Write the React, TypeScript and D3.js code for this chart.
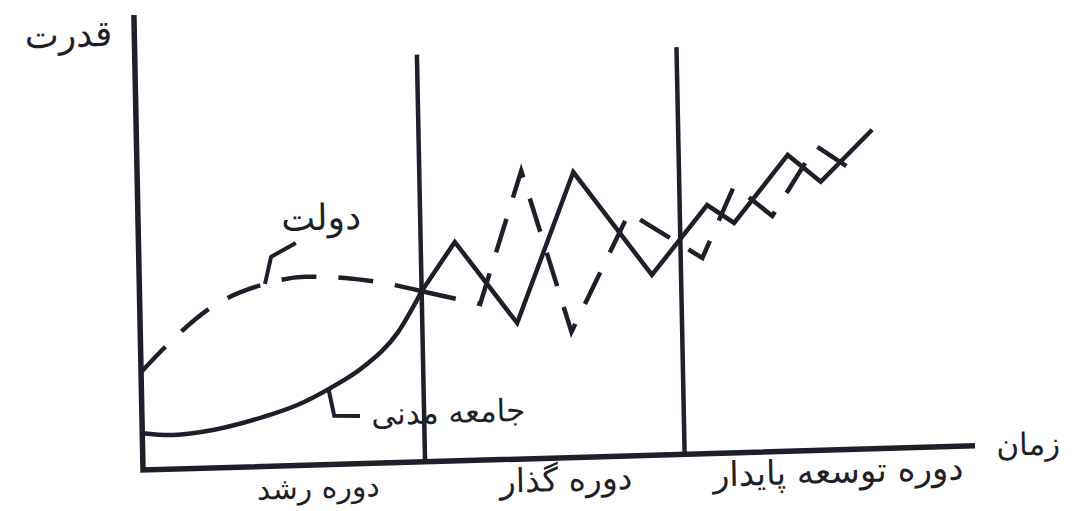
import * as d3 from 'd3';

const WIDTH = 1080;
const HEIGHT = 511;

// time runs 0..100 along the bottom, power 0..100 up the side
const periodBounds = [0, 33.9, 65.1, 100];
const periodLabels = ['دوره رشد', 'دوره گذار', 'دوره توسعه پایدار'];
const periodLabelTime = [21, 50.8, 83.5];
const dividerTop = 89.5;

// civil society (solid)
const civilCurveTime = [0, 3.7, 8.5, 14.6, 18.7, 22.7, 26.7, 30.9, 33.9];
const civilCurvePower = [8.1, 7.5, 8.35, 10.9, 13.3, 16.8, 21.2, 28.5, 37.5];
const civilZigTime = [33.9, 38.0, 45.3, 52.4, 61.6, 68.4, 71.6, 78.2, 82.1, 88.4];
const civilZigPower = [37.5, 48.1, 29.9, 62.7, 39.6, 54.6, 50.5, 65.1, 59.0, 70.1];

// government (dashed)
const govCurveTime = [0, 3.2, 8.7, 15.1, 19.9, 24.7, 29.2, 33.9];
const govCurvePower = [21.5, 27.3, 35.4, 40.1, 41.4, 40.9, 39.6, 37.5];
const govZigTime = [33.9, 40.9, 46.15, 51.8, 59.0, 67.7, 71.7, 76.2, 81.6, 85.5];
const govZigPower = [37.5, 34.3, 63.3, 27.6, 53.4, 43.0, 58.7, 51.8, 66.9, 61.9];

// label leaders and labels
const govLeaderTime = [15.1, 15.9, 18.9];
const govLeaderPower = [40.1, 46.0, 48.9];
const civilLeaderTime = [22.5, 23.1, 26.2];
const civilLeaderPower = [16.4, 10.7, 10.5];
const seriesLabels = ['دولت', 'جامعه مدنی'];
const seriesLabelTime = [22.0, 36.8];
const seriesLabelPower = [51.6, 8.4];

const axisTitles = ['قدرت', 'زمان'];
const axisTitleTime = [-7.9, 106.4];
const axisTitlePower = [93.4, -2.35];

// the hand drawing leans a little
const SKEW_X = 0.02;
const SKEW_Y = -0.029;

const INK = '#1f1f29';
const FONT = '"DejaVu Sans", sans-serif';

// lettering in the scan is not all one size
const SIZE: Record<string, number> = {
    'قدرت': 36,
    'زمان': 31,
    'دولت': 36,
    'جامعه مدنی': 31,
    'دوره رشد': 30,
    'دوره گذار': 33,
    'دوره توسعه پایدار': 34,
};

type Pt = [number, number];
const zip = (ts: number[], ps: number[]): Pt[] => ts.map((t, i) => [t, ps[i]]);

export default function App() {
    const x = d3.scaleLinear().domain([0, 100]).range([143, 975]);
    const y = d3.scaleLinear().domain([0, 100]).range([470, 15]);

    const straight = d3.line<Pt>().x(d => x(d[0])).y(d => y(d[1]));
    const smooth = d3.line<Pt>().x(d => x(d[0])).y(d => y(d[1])).curve(d3.curveMonotoneX);

    const ox = x(0);
    const oy = y(0);
    const lean = `translate(${ox},${oy}) matrix(1,${SKEW_Y},${SKEW_X},1,0,0) translate(${-ox},${-oy})`;

    const govPath =
        (smooth(zip(govCurveTime, govCurvePower)) ?? '') +
        (straight(zip(govZigTime, govZigPower)) ?? '');

    return (
        <svg
            width={WIDTH}
            height={HEIGHT}
            style={{ position: 'absolute', left: 0, top: 0, background: '#fff' }}
        >
            <g transform={lean}>
                {/* axes */}
                <path
                    d={straight([[0, 100], [0, 0], [100, 0]]) ?? ''}
                    fill="none"
                    stroke={INK}
                    strokeWidth={5.5}
                    strokeLinejoin="miter"
                />
                {/* period dividers */}
                {periodBounds.slice(1, -1).map((t, i) => (
                    <line
                        key={i}
                        x1={x(t)}
                        x2={x(t)}
                        y1={y(0)}
                        y2={y(dividerTop)}
                        stroke={INK}
                        strokeWidth={4.5}
                    />
                ))}

                {/* civil society */}
                <path d={smooth(zip(civilCurveTime, civilCurvePower)) ?? ''} fill="none" stroke={INK} strokeWidth={4.5} />
                <path d={straight(zip(civilZigTime, civilZigPower)) ?? ''} fill="none" stroke={INK} strokeWidth={4.5} strokeLinejoin="miter" />

                {/* government */}
                <path d={govPath} fill="none" stroke={INK} strokeWidth={4.5} strokeDasharray="35 22" />

                {/* leaders */}
                <path d={straight(zip(govLeaderTime, govLeaderPower)) ?? ''} fill="none" stroke={INK} strokeWidth={4} />
                <path d={straight(zip(civilLeaderTime, civilLeaderPower)) ?? ''} fill="none" stroke={INK} strokeWidth={4} />

                <g fontFamily={FONT} fill={INK} textAnchor="middle" direction="rtl">
                    {seriesLabels.map((s, i) => (
                        <text key={s} x={x(seriesLabelTime[i])} y={y(seriesLabelPower[i])} fontSize={SIZE[s]}>{s}</text>
                    ))}
                    {axisTitles.map((s, i) => (
                        <text key={s} x={x(axisTitleTime[i])} y={y(axisTitlePower[i])} fontSize={SIZE[s]}>{s}</text>
                    ))}
                    {periodLabels.map((s, i) => (
                        <text key={s} x={x(periodLabelTime[i])} y={y(0) + 33} fontSize={SIZE[s]}>{s}</text>
                    ))}
                </g>
            </g>
        </svg>
    );
}
